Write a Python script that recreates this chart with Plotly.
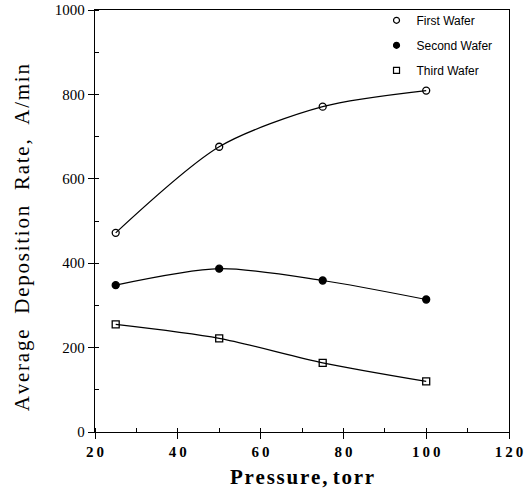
import plotly.graph_objects as go

pressure = [25, 50, 75, 100]
first_wafer = [472, 676, 771, 809]
second_wafer = [348, 387, 359, 314]
third_wafer = [255, 222, 164, 120]

series = [
    ("First Wafer", first_wafer, "circle-open"),
    ("Second Wafer", second_wafer, "circle"),
    ("Third Wafer", third_wafer, "square-open"),
]

x_ticks = [20, 40, 60, 80, 100, 120]
y_ticks = [0, 200, 400, 600, 800, 1000]

HS = "\u200a"
NB = "\u00a0"


def spaced(s, word_gap=" "):
    words = s.split(" ")
    return word_gap.join(HS.join(w) for w in words)


fig = go.Figure()
for i, (name, vals, sym) in enumerate(series):
    fig.add_trace(go.Scatter(
        x=pressure, y=vals, mode="lines+markers", name=name,
        line=dict(color="black", width=1.2, shape="spline", smoothing=0.8),
        marker=dict(symbol=sym, size=7, color="black", line=dict(color="black", width=1.3)),
        showlegend=False,
    ))
    fig.add_trace(go.Scatter(
        x=[None], y=[None], mode="markers", name=name,
        marker=dict(symbol=sym, size=6, color="black", line=dict(color="black", width=1.2)),
        legendgroup=f"g{i}", showlegend=True,
    ))

axis_common = dict(
    showline=True, linecolor="black", linewidth=1.3, mirror=True,
    showgrid=False, zeroline=False,
    ticks="outside", ticklen=6, tickwidth=1.2, tickcolor="black",
    tickfont=dict(family="Liberation Serif", size=15, color="black"),
)

fig.update_xaxes(
    range=[20, 120], tickvals=x_ticks,
    ticktext=[f"<b>{'&#8201;'.join(str(t))}</b>" for t in x_ticks],
    minor=dict(ticks="inside", ticklen=4, tickwidth=1, tickcolor="black", dtick=10),
    title=dict(text="<b>" + spaced("Pressure, torr") + "</b>",
               font=dict(family="Liberation Serif", size=21, color="black"), standoff=10),
    **axis_common,
)
fig.update_yaxes(
    range=[0, 1000], tickvals=y_ticks, ticktext=[str(t) for t in y_ticks],
    minor=dict(ticks="inside", ticklen=4, tickwidth=1, tickcolor="black", dtick=100),
    **axis_common,
)

fig.add_annotation(
    text=spaced("Average Deposition Rate, A/min", NB + NB + " "),
    xref="paper", yref="paper", x=-0.176, y=0.462,
    xanchor="center", yanchor="middle", textangle=-90, showarrow=False,
    font=dict(family="Liberation Serif", size=21, color="black"),
)

fig.update_layout(
    width=532, height=502,
    margin=dict(l=95, r=23, t=10, b=70, autoexpand=False),
    paper_bgcolor="white", plot_bgcolor="white",
    legend=dict(
        x=0.68, y=1.01, xanchor="left", yanchor="top",
        font=dict(family="Liberation Sans", size=12, color="black"),
        bgcolor="rgba(0,0,0,0)", tracegroupgap=6,
    ),
)

fig.write_html("out.html")
